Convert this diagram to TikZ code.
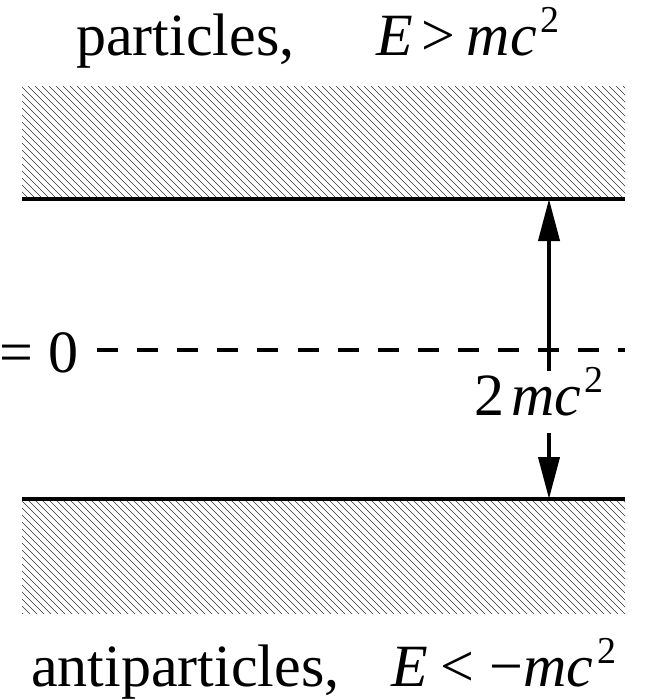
\documentclass[tikz,border=0pt]{standalone}
\usepackage{fontspec}
\setmainfont{Liberation Serif}
\usetikzlibrary{arrows.meta}
\newcommand\supTwo{\raisebox{23pt}{\fontsize{38}{38}\selectfont 2}}
\tikzset{
  txt/.style={inner sep=0pt, anchor=base west, font=\fontsize{60}{62}\selectfont},
  hatch/.style={line width=0.65pt, black!80},
  level/.style={line width=4pt},
  zero/.style={line width=4.5pt, dash pattern=on 21pt off 19.1pt},
  gaparrow/.style={line width=4pt, -{Triangle[length=42pt,width=21pt]}}
}
\begin{document}
\begin{tikzpicture}[x=1pt,y=-1pt]
\useasboundingbox (0,0) rectangle (645,699);
% hatched bands
\begin{scope}
  \clip (22,86) rectangle (625,198);
  \foreach \x in {-140,-133,...,640} \draw[hatch] (\x,86) -- ++(130,130);
\end{scope}
\begin{scope}
  \clip (22,500) rectangle (625,613);
  \foreach \x in {-140,-133,...,640} \draw[hatch] (\x,500) -- ++(130,130);
\end{scope}
% levels
\coordinate (tl) at (22,199);
\coordinate (tr) at (625,199);
\coordinate (bl) at (22,499);
\coordinate (br) at (625,499);
\coordinate (zl) at (97,350);
\coordinate (zr) at (625,350);
\draw[level] (tl) -- (tr);
\draw[level] (bl) -- (br);
\draw[zero] (zl) -- (zr);
% gap arrows
\coordinate (gt) at (549,199);
\coordinate (gb) at (549,499);
\coordinate (lt) at (549,371);
\coordinate (lb) at (549,433);
\draw[gaparrow] (lt) -- (gt);
\draw[gaparrow] (lb) -- (gb);
% labels
\node[txt] (gap) at (474,415) {2\hspace{7pt}\textit{mc}\hspace{3pt}\supTwo};
\node[txt] (ezero) at (-1,372) {=\hspace{16pt}0};
\node[txt] (part) at (76,55) {particles,};
\node[txt] (pE) at (376,55) {\textit{E}\hspace{9pt}>\hspace{11pt}\textit{mc}\hspace{4pt}\supTwo};
\node[txt] (anti) at (31,686) {antiparticles,};
\node[txt] (aE) at (391,686) {\textit{E}\hspace{13pt}<\hspace{15pt}−\textit{mc}\hspace{4pt}\supTwo};
\end{tikzpicture}
\end{document}
